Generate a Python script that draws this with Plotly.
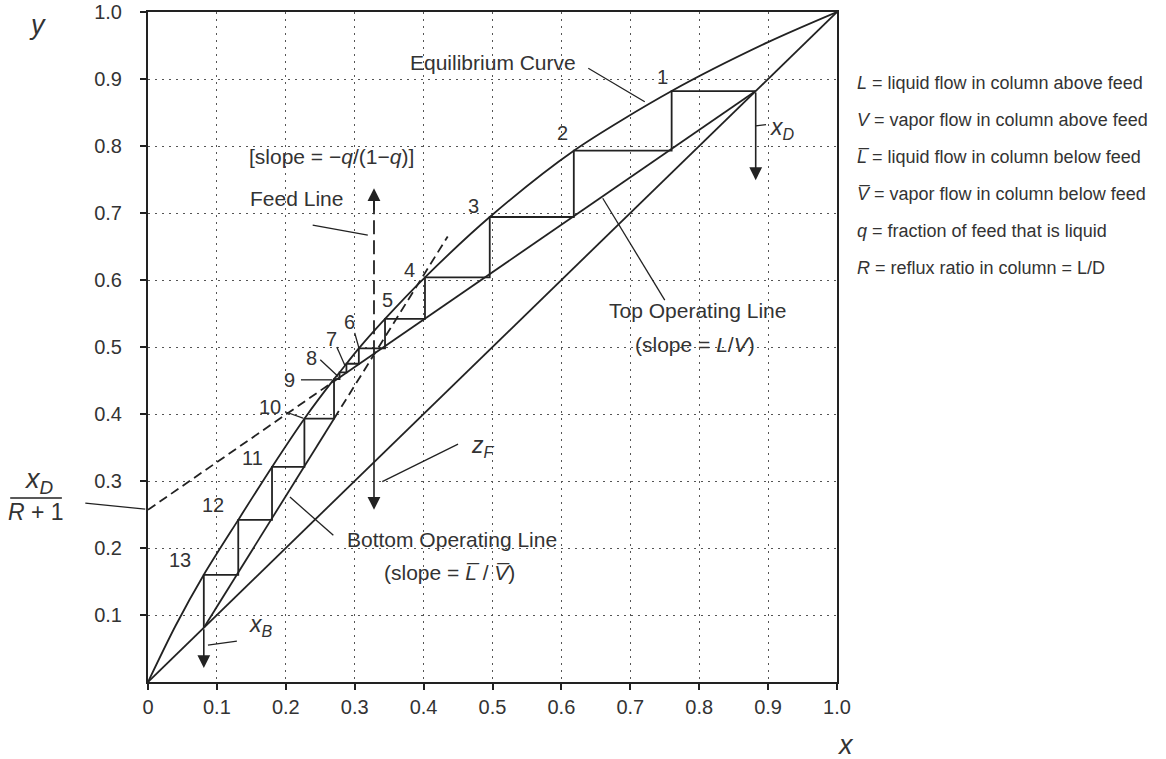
import plotly.graph_objects as go

# ---------------- data ----------------
eq_x = [0.0, 0.040, 0.081, 0.131, 0.180, 0.227, 0.270, 0.278, 0.288, 0.306, 0.344, 0.402, 0.496, 0.618, 0.760, 0.900, 1.0]
eq_y = [0.0, 0.084, 0.160, 0.242, 0.321, 0.393, 0.452, 0.462, 0.475, 0.498, 0.542, 0.604, 0.694, 0.793, 0.882, 0.955, 1.0]

x_D = 0.882
x_B = 0.081
z_F = 0.328
intercept = 0.257           # x_D/(R+1)

# staircase corners on the equilibrium curve (stages 1..13)
stage_x = [0.760, 0.618, 0.496, 0.402, 0.344, 0.306, 0.288, 0.278, 0.270, 0.227, 0.180, 0.131, 0.081]
stage_y = [0.882, 0.793, 0.694, 0.604, 0.542, 0.498, 0.475, 0.462, 0.452, 0.393, 0.321, 0.242, 0.160]
stage_labels = ["1", "2", "3", "4", "5", "6", "7", "8", "9", "10", "11", "12", "13"]

top_solid_x = [0.270, x_D]
top_solid_y = [0.449, x_D]
top_dash_x = [0.0, 0.270]
top_dash_y = [intercept, 0.449]
bot_solid_x = [x_B, 0.270]
bot_solid_y = [x_B, 0.393]
bot_dash_x = [0.270, 0.435]
bot_dash_y = [0.393, 0.665]
feed_dash_y = [0.489, 0.722]
feed_arrow_tip = 0.737
zf_arrow_tip = 0.257
xd_arrow_tip = 0.749
xb_arrow_tip = 0.021

tick_vals = [0, 0.1, 0.2, 0.3, 0.4, 0.5, 0.6, 0.7, 0.8, 0.9, 1.0]
x_tick_text = ["0", "0.1", "0.2", "0.3", "0.4", "0.5", "0.6", "0.7", "0.8", "0.9", "1.0"]
y_tick_vals = [0.1, 0.2, 0.3, 0.4, 0.5, 0.6, 0.7, 0.8, 0.9, 1.0]
y_tick_text = ["0.1", "0.2", "0.3", "0.4", "0.5", "0.6", "0.7", "0.8", "0.9", "1.0"]

legend_lines = [
    "<i>L</i> = liquid flow in column above feed",
    "<i>V</i> = vapor flow in column above feed",
    "<i>L\u0305</i> = liquid flow in column below feed",
    "<i>V\u0305</i> = vapor flow in column below feed",
    "<i>q</i> = fraction of feed that is liquid",
    "<i>R</i> = reflux ratio in column = L/D",
]

# ---------------- figure ----------------
INK = "#222222"
TXT = "#333333"
FONT = "Liberation Sans, Arial, sans-serif"
LW = 1.8

fig = go.Figure()

def line(x, y, dash="solid", width=LW):
    fig.add_trace(go.Scatter(x=x, y=y, mode="lines", line=dict(color=INK, width=width, dash=dash),
                             hoverinfo="skip", showlegend=False))

# diagonal y = x
line([0, 1], [0, 1])
# equilibrium curve
fig.add_trace(go.Scatter(x=eq_x, y=eq_y, mode="lines", line=dict(color=INK, width=LW, shape="spline", smoothing=0.8),
                         hoverinfo="skip", showlegend=False))
# operating lines
line(top_solid_x, top_solid_y)
line(top_dash_x, top_dash_y, dash="9px,5px")
line(bot_solid_x, bot_solid_y)
line(bot_dash_x, bot_dash_y, dash="9px,5px")
# feed line (dashed part)
line([z_F, z_F], feed_dash_y, dash="14px,6px")

# staircase
sx = [x_D]
sy = [stage_y[0]]
for i in range(len(stage_x)):
    sx.append(stage_x[i]); sy.append(stage_y[i])
    nxt = stage_y[i + 1] if i + 1 < len(stage_y) else x_B
    sx.append(stage_x[i]); sy.append(nxt)
line(sx, sy)

annotations = []
def arrow(x, y_tail, y_tip):
    annotations.append(dict(x=x, y=y_tip, ax=x, ay=y_tail, xref="x", yref="y", axref="x", ayref="y",
                            showarrow=True, arrowhead=2, arrowsize=1.6, arrowwidth=1.6,
                            arrowcolor=INK, text="", standoff=0))

arrow(x_D, x_D, xd_arrow_tip)
arrow(x_B, x_B, xb_arrow_tip)
arrow(z_F, feed_dash_y[0], zf_arrow_tip)
arrow(z_F, feed_dash_y[1] - 0.02, feed_arrow_tip)

def text(x, y, s, size=21, xanchor="center", ref="x"):
    annotations.append(dict(x=x, y=y, text=s, xref=ref if ref == "paper" else "x",
                            yref=ref if ref == "paper" else "y", showarrow=False,
                            font=dict(family=FONT, size=size, color=TXT), xanchor=xanchor, yanchor="middle"))

# stage numbers
label_pos = [(0.747, 0.903), (0.602, 0.819), (0.473, 0.710), (0.379, 0.615), (0.348, 0.570),
             (0.293, 0.537), (0.267, 0.512), (0.238, 0.484), (0.206, 0.451), (0.177, 0.410),
             (0.151, 0.334), (0.094, 0.264), (0.046, 0.182)]
for (lx, ly), s in zip(label_pos, stage_labels):
    text(lx, ly, s, size=20)

text(0.500, 0.924, "Equilibrium Curve")
text(0.266, 0.784, "[slope = \u2212<i>q</i>/(1\u2212<i>q</i>)]")
text(0.215, 0.722, "Feed Line")
text(0.798, 0.555, "Top Operating Line")
text(0.794, 0.503, "(slope = <i>L</i>/<i>V</i>)")
text(0.441, 0.212, "Bottom Operating Line")
text(0.438, 0.164, "(slope = <i>L\u0305</i> / <i>V\u0305</i>)")
text(0.900, 0.826, "<i>x</i><sub><i>D</i></sub>", size=23, xanchor="left")
text(0.466, 0.352, "<i>z</i><sub><i>F</i></sub>", size=23, xanchor="left")
text(0.143, 0.084, "<i>x</i><sub><i>B</i></sub>", size=23, xanchor="left")

# axis titles
text(-0.160, 0.980, "<i>y</i>", size=27, ref="paper")
text(1.012, -0.094, "<i>x</i>", size=27, ref="paper")
# x_D/(R+1) fraction
text(-0.158, 0.300, "<i>x</i><sub><i>D</i></sub>", size=27, ref="paper")
text(-0.163, 0.254, "<i>R</i> + 1", size=23, ref="paper")

# right-hand definitions
leg_y = [0.894, 0.839, 0.784, 0.728, 0.673, 0.618]
for s, ly in zip(legend_lines, leg_y):
    text(1.026, ly, s, size=18, xanchor="left", ref="paper")

shapes = []
def seg(x0, y0, x1, y1, ref="x", width=1.3):
    shapes.append(dict(type="line", x0=x0, y0=y0, x1=x1, y1=y1,
                       xref=ref if ref == "paper" else "x", yref=ref if ref == "paper" else "y",
                       line=dict(color=INK, width=width)))

seg(0.300, 0.521, 0.306, 0.499)
seg(0.274, 0.500, 0.286, 0.472)
seg(0.250, 0.481, 0.276, 0.456)
seg(0.222, 0.451, 0.267, 0.451)
seg(0.200, 0.403, 0.225, 0.394)
seg(0.639, 0.916, 0.721, 0.866)
seg(0.660, 0.722, 0.750, 0.570)
seg(0.206, 0.276, 0.269, 0.219)
seg(0.239, 0.682, 0.319, 0.667)
seg(0.882, 0.830, 0.897, 0.832)
seg(0.340, 0.299, 0.450, 0.355)
seg(0.087, 0.055, 0.129, 0.061)
# fraction bar and its pointer
seg(-0.200, 0.2746, -0.125, 0.2746, ref="paper", width=1.6)
seg(-0.091, 0.267, -0.004, 0.258, ref="paper")

axis_common = dict(range=[0, 1], showline=True, linecolor=INK, linewidth=2, mirror=True,
                   ticks="outside", ticklen=6, tickcolor=INK, tickwidth=1.5, automargin=False,
                   showgrid=True, gridcolor="#555555", gridwidth=1.2, griddash="2px,5px",
                   zeroline=False, tickfont=dict(family=FONT, size=20, color=TXT))

fig.update_layout(
    width=1166, height=759,
    margin=dict(l=148, r=329, t=12, b=77),
    paper_bgcolor="white", plot_bgcolor="white",
    xaxis=dict(tickvals=tick_vals, ticktext=x_tick_text, **axis_common),
    yaxis=dict(tickvals=y_tick_vals, ticktext=y_tick_text, ticklabelstandoff=14, **axis_common),
    annotations=annotations, shapes=shapes, showlegend=False,
)

fig.write_html("out.html")
